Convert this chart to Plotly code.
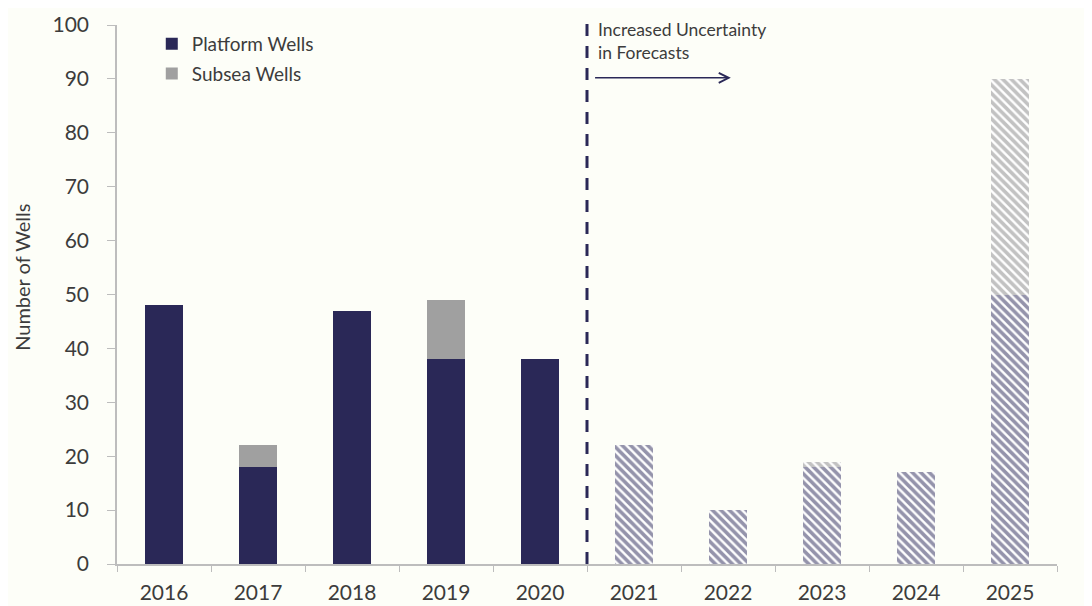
import plotly.graph_objects as go

years = ["2016", "2017", "2018", "2019", "2020", "2021", "2022", "2023", "2024", "2025"]
platform_actual = [48, 18, 47, 38, 38, None, None, None, None, None]
subsea_actual = [0, 4, 0, 11, 0, None, None, None, None, None]
platform_forecast = [None, None, None, None, None, 22, 10, 18, 17, 50]
subsea_forecast = [None, None, None, None, None, 0, 0, 1, 0, 40]

NAVY = "#2A2857"
GRAY = "#A0A0A0"
TXT = "#3C3C3C"
BG = "#FDFEF8"
FONT = "Lato, Open Sans, sans-serif"
BW = 0.40

fig = go.Figure()
fig.add_trace(go.Bar(x=years, y=platform_actual, name="Platform Wells", width=BW,
                     marker=dict(color=NAVY, line=dict(width=0)), legend="legend"))
fig.add_trace(go.Bar(x=years, y=subsea_actual, name="Subsea Wells", width=BW,
                     marker=dict(color=GRAY, line=dict(width=0)), legend="legend2"))
fig.add_trace(go.Bar(x=years, y=platform_forecast, name="Platform Wells (forecast)", width=BW,
                     showlegend=False,
                     marker=dict(color="white", line=dict(width=0),
                                 pattern=dict(shape="\\", fgcolor=NAVY, bgcolor="white",
                                              size=6, solidity=0.6, fillmode="overlay"))))
fig.add_trace(go.Bar(x=years, y=subsea_forecast, name="Subsea Wells (forecast)", width=BW,
                     showlegend=False,
                     marker=dict(color="white", line=dict(width=0),
                                 pattern=dict(shape="\\", fgcolor="#858585", bgcolor="white",
                                              size=6, solidity=0.6, fillmode="overlay"))))

fig.update_layout(
    barmode="stack",
    width=1092, height=606,
    margin=dict(l=109, r=43, t=17, b=50, autoexpand=False),
    paper_bgcolor=BG, plot_bgcolor=BG,
    font=dict(family=FONT, color=TXT, size=21),
    legend=dict(x=0.037, y=1.0, xanchor="left", yanchor="top",
                bgcolor="rgba(0,0,0,0)", font=dict(size=19, color=TXT)),
    legend2=dict(x=0.037, y=0.945, xanchor="left", yanchor="top",
                 bgcolor="rgba(0,0,0,0)", font=dict(size=19, color=TXT)),
    xaxis=dict(type="category", tickson="boundaries", ticks="outside", ticklen=6,
               tickcolor="#BDBDBD", showline=True, linecolor="#BDBDBD", linewidth=1.5,
               showgrid=False, tickfont=dict(size=21, color=TXT), range=[-0.5, 9.5],
               ticklabelstandoff=9, automargin=False),
    yaxis=dict(range=[0, 100], dtick=10, ticks="outside", ticklen=8, tickcolor="#BDBDBD",
               showline=True, linecolor="#BDBDBD", linewidth=1.5, showgrid=False,
               zeroline=False, tickfont=dict(size=21, color=TXT), ticklabelstandoff=14,
               automargin=False),
)

fig.add_annotation(x=-0.101, y=0.531, xref="paper", yref="paper", text="Number of Wells",
                   textangle=-90, showarrow=False, xanchor="center", yanchor="middle",
                   font=dict(size=20, color=TXT, family=FONT))

fig.add_shape(type="line", xref="x", yref="paper", x0=4.5, x1=4.5, y0=0, y1=1.01,
              line=dict(color=NAVY, width=3, dash="12px,10px"))

fig.add_annotation(x=4.6, y=1.015, xref="x", yref="paper", xanchor="left", yanchor="top",
                   text="Increased Uncertainty<br>in Forecasts", showarrow=False, align="left",
                   font=dict(size=17.5, color=TXT, family=FONT))
fig.add_annotation(x=6.03, y=90.2, xref="x", yref="y", ax=4.57, ay=90.2, axref="x", ayref="y",
                   text="", showarrow=True, arrowhead=5, arrowsize=1.3, arrowwidth=1.5,
                   arrowcolor=NAVY)

fig.write_html("out.html")
